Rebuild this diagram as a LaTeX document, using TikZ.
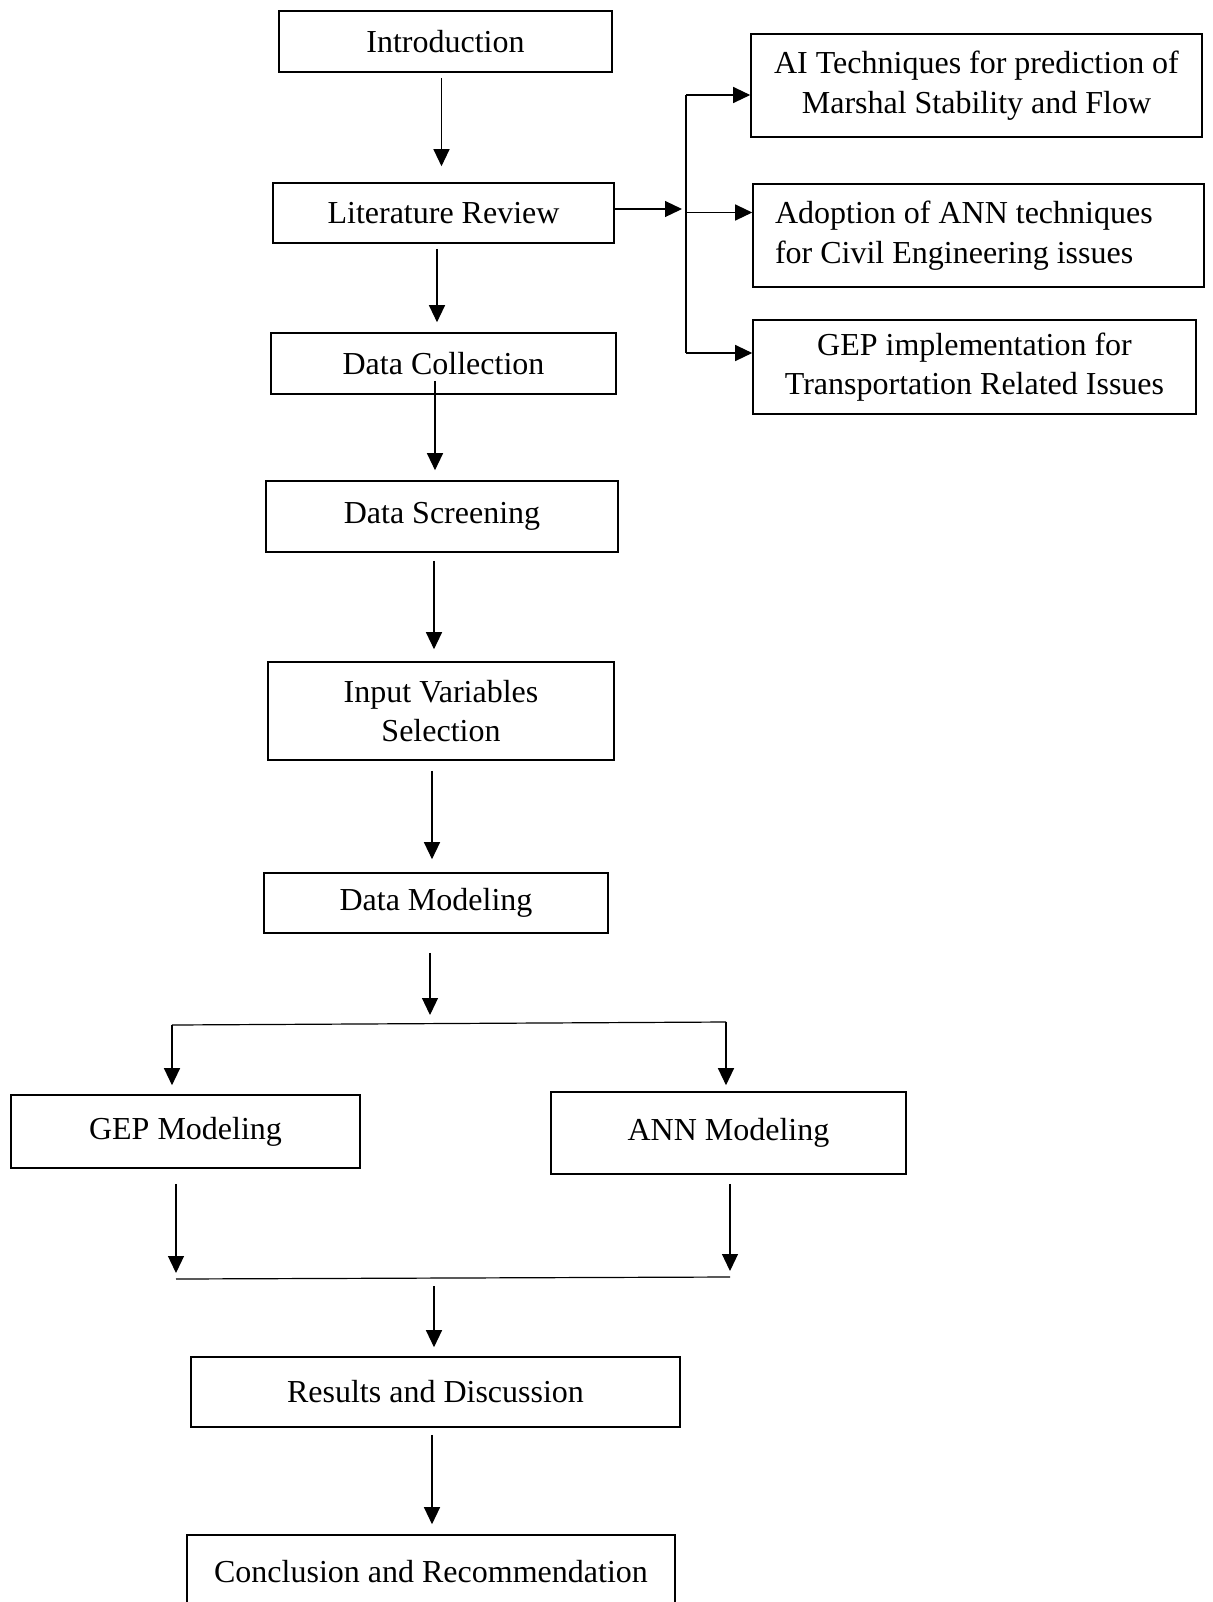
\documentclass[tikz,border=0pt]{standalone}
\usepackage{fontspec}
\setmainfont{Liberation Serif}
\usetikzlibrary{arrows.meta,calc}

\begin{document}
\begin{tikzpicture}[
  x=0.5pt, y=-0.5pt,
  box/.style={draw, line width=0.8pt, inner sep=0pt, align=center,
              font=\fontsize{16pt}{19.7pt}\selectfont},
  arr/.style={line width=0.6pt, -{Triangle[length=8.5pt,width=8pt]}},
  link/.style={line width=0.6pt}
]
\useasboundingbox (0,0) rectangle (1212,1602);

% main column
\node[box, minimum width=166.5pt, minimum height=30.5pt] (intro) at (445.5,41.5) {Introduction};
\node[box, minimum width=170.5pt, minimum height=30pt] (lit) at (443.5,213) {Literature Review};
\node[box, minimum width=172.5pt, minimum height=30.5pt] (dc) at (443.5,363.5) {Data Collection};
\node[box, minimum width=176pt, minimum height=35.5pt] (ds) at (442,516.5) {Data Screening};
\node[box, minimum width=173pt, minimum height=49pt] (iv) at (441,711) {Input Variables\\Selection};
\node[box, minimum width=172pt, minimum height=30pt] (dm) at (436,903) {Data Modeling};
\node[box, minimum width=174.5pt, minimum height=36.5pt] (gep) at (185.5,1131.5) {GEP Modeling};
\node[box, minimum width=177.5pt, minimum height=41pt] (ann) at (728.5,1133) {ANN Modeling};
\node[box, minimum width=244.5pt, minimum height=35pt] (res) at (435.5,1392) {Results and Discussion};
\node[box, minimum width=244pt, minimum height=36.5pt] (conc) at (431,1571.5) {Conclusion and Recommendation};

% literature branches
\node[box, minimum width=225.5pt, minimum height=51.5pt] (ai) at (976.5,85.5) {AI Techniques for prediction of\\Marshal Stability and Flow};
\node[box, minimum width=225.5pt, minimum height=51.5pt, text width=203.5pt, align=flush left] (annlit) at (978.5,235.5) {Adoption of ANN techniques\\for Civil Engineering issues};
\node[box, minimum width=221.5pt, minimum height=47pt] (gepi) at (974.5,367) {GEP implementation for\\Transportation Related Issues};

% branch rail
\coordinate (bt) at (686,95);
\coordinate (bm) at (686,212.5);
\coordinate (bb) at (686,353);
\draw[arr, shorten >=2pt] ([yshift=2pt]lit.east) -- ([yshift=2pt]lit.east -| bm);
\draw[link] (bt) -- (bb);
\draw[arr] (bt) -- (bt -| ai.west);
\draw[arr] (bm) -- (bm -| annlit.west);
\draw[arr] (bb) -- (bb -| gepi.west);

% main flow
\draw[arr, shorten <=2.5pt, shorten >=8pt] (441.5,0 |- intro.south) -- (441.5,0 |- lit.north);
\draw[arr, shorten <=2.5pt, shorten >=5pt] (437,0 |- lit.south) -- (437,0 |- dc.north);
\draw[arr, shorten <=-7pt, shorten >=5pt] (435,0 |- dc.south) -- (435,0 |- ds.north);
\draw[arr, shorten <=4pt, shorten >=6pt] (434,0 |- ds.south) -- (434,0 |- iv.north);
\draw[arr, shorten <=5pt, shorten >=6.5pt] (432,0 |- iv.south) -- (432,0 |- dm.north);

% split into the two models
\coordinate (dmend) at (430,1015);
\coordinate (sl) at (172,1025);
\coordinate (sr) at (726,1022);
\draw[arr, shorten <=9.5pt] (dm.south -| dmend) -- (dmend);
\draw[link] (sl) -- (sr);
\draw[arr, shorten >=4.5pt] (sl) -- (sl |- gep.north);
\draw[arr, shorten >=3pt] (sr) -- (sr |- ann.north);

% merge of the two models
\coordinate (ml) at (176,1279);
\coordinate (mr) at (730,1277);
\coordinate (mc) at (434,1286);
\draw[arr, shorten <=7.5pt, shorten >=3pt] (gep.south -| ml) -- (ml);
\draw[arr, shorten <=4.5pt, shorten >=3pt] (ann.south -| mr) -- (mr);
\draw[link] (ml) -- (mr);
\draw[arr, shorten >=4.5pt] (mc) -- (mc |- res.north);
\draw[arr, shorten <=3.5pt, shorten >=5pt] (432,0 |- res.south) -- (432,0 |- conc.north);
\end{tikzpicture}
\end{document}
